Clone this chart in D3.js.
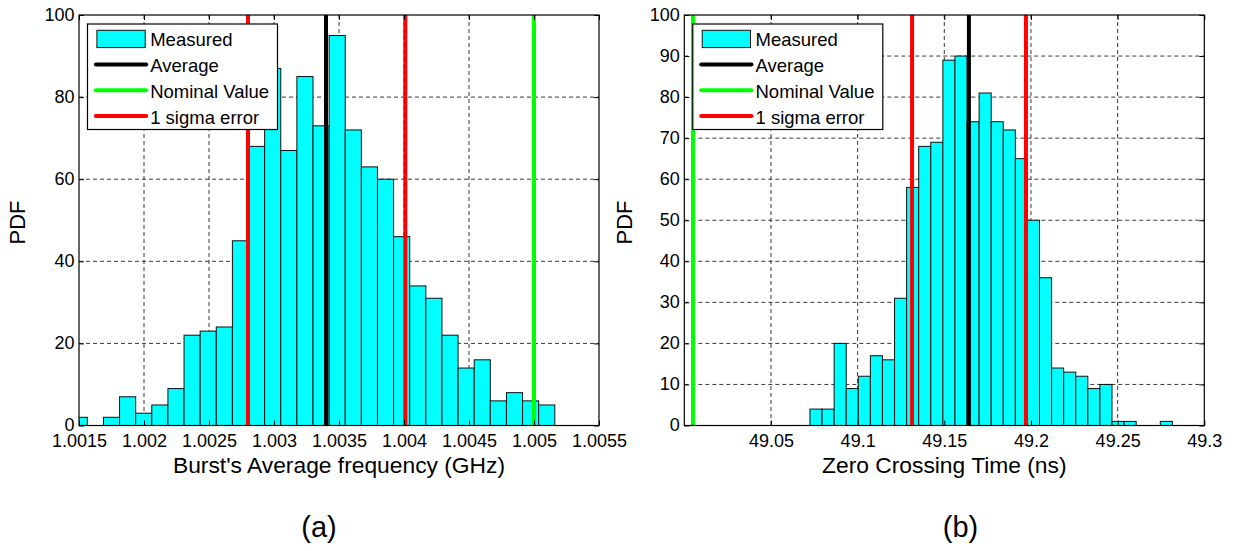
<!DOCTYPE html>
<html>
<head>
<meta charset="utf-8">
<script src="https://cdn.jsdelivr.net/npm/d3@7"></script>
<style>
  html, body { margin: 0; padding: 0; background: #fff; }
  svg { display: block; }
  text { font-family: "Liberation Sans", Arial, Helvetica, sans-serif; fill: #000; }
</style>
</head>
<body>
<svg id="fig" width="1244" height="551"></svg>
<script>
// ---- Panel (a): burst average frequency histogram ----
const freqBinStart = 1.00144;      // left edge of first bin (GHz)
const freqBinWidth = 0.000124;     // bin width (GHz)
const freqCounts = [2, 0, 2, 7, 3, 5, 9, 22, 23, 24, 45, 68, 87, 67, 85,
                    73, 95, 72, 63, 60, 46, 34, 31, 22, 14, 16, 6, 8, 6, 5];
const freqTicks = [1.0015, 1.002, 1.0025, 1.003, 1.0035, 1.004, 1.0045, 1.005, 1.0055];
const freqTickLabels = ["1.0015", "1.002", "1.0025", "1.003", "1.0035", "1.004", "1.0045", "1.005", "1.0055"];
const freqAverage = 1.00340;
const freqNominal = 1.005;
const freqSigma = [1.00280, 1.00401];
const freqYTicks = [0, 20, 40, 60, 80, 100];

// ---- Panel (b): zero crossing time histogram ----
const timeBinStart = 49.0725;      // left edge of first bin (ns)
const timeBinWidth = 0.00697;      // bin width (ns)
const timeCounts = [4, 4, 20, 9, 12, 17, 16, 31, 58, 68, 69, 89, 90, 74, 81,
                    74, 72, 65, 50, 36, 14, 13, 12, 9, 10, 1, 1, 0, 0, 1];
const timeTicks = [49.05, 49.1, 49.15, 49.2, 49.25, 49.3];
const timeTickLabels = ["49.05", "49.1", "49.15", "49.2", "49.25", "49.3"];
const timeAverage = 49.1642;
const timeNominal = 49.005;
const timeSigma = [49.1314, 49.1971];
const timeYTicks = [0, 10, 20, 30, 40, 50, 60, 70, 80, 90, 100];

const legendLabels = ["Measured", "Average", "Nominal Value", "1 sigma error"];
const COLORS = { bar: "#00ffff", average: "#000000", nominal: "#00ff00", sigma: "#ff0000" };

const svg = d3.select("#fig");
svg.append("rect").attr("width", 1244).attr("height", 551).attr("fill", "#fff");

const PLOT_TOP = 15, PLOT_BOTTOM = 425.5;

const panels = [
  {
    key: "a", left: 79, right: 599, xDomain: [1.0015, 1.0055],
    binStart: freqBinStart, binWidth: freqBinWidth, counts: freqCounts,
    xTicks: freqTicks, xTickLabels: freqTickLabels, yTicks: freqYTicks,
    average: freqAverage, nominal: freqNominal, sigma: freqSigma,
    xTitle: "Burst's Average frequency (GHz)", tag: "(a)", tagX: 319,
    yTitleX: 25
  },
  {
    key: "b", left: 684.3, right: 1204.3, xDomain: [49.0, 49.3],
    binStart: timeBinStart, binWidth: timeBinWidth, counts: timeCounts,
    xTicks: timeTicks, xTickLabels: timeTickLabels, yTicks: timeYTicks,
    average: timeAverage, nominal: timeNominal, sigma: timeSigma,
    xTitle: "Zero Crossing Time (ns)", tag: "(b)", tagX: 960.5,
    yTitleX: 631.5
  }
];

panels.forEach(drawPanel);

function drawPanel(p) {
  const x = d3.scaleLinear().domain(p.xDomain).range([p.left, p.right]);
  const y = d3.scaleLinear().domain([0, 100]).range([PLOT_BOTTOM, PLOT_TOP]);
  const g = svg.append("g").attr("class", "panel-" + p.key);
  const w = p.right - p.left, h = PLOT_BOTTOM - PLOT_TOP;

  const clipId = "clip-" + p.key;
  svg.append("defs").append("clipPath").attr("id", clipId)
    .append("rect").attr("x", p.left).attr("y", PLOT_TOP).attr("width", w).attr("height", h);

  // dashed grid
  const grid = g.append("g").attr("class", "grid")
    .attr("stroke", "#222").attr("stroke-width", 0.9).attr("stroke-dasharray", "4,3");
  grid.selectAll("line.gx")
    .data(p.xTicks.filter(t => x(t) > p.left + 1 && x(t) < p.right - 1))
    .join("line").attr("class", "gx")
    .attr("x1", d => x(d)).attr("x2", d => x(d))
    .attr("y1", PLOT_TOP).attr("y2", PLOT_BOTTOM);
  grid.selectAll("line.gy")
    .data(p.yTicks.filter(t => t > 0 && t < 100))
    .join("line").attr("class", "gy")
    .attr("x1", p.left).attr("x2", p.right)
    .attr("y1", d => y(d)).attr("y2", d => y(d));

  // histogram bars
  const bins = p.counts.map((c, i) => ({
    x0: p.binStart + i * p.binWidth,
    x1: p.binStart + (i + 1) * p.binWidth,
    count: c
  }));
  g.append("g").attr("clip-path", `url(#${clipId})`)
    .selectAll("rect").data(bins).join("rect")
    .attr("x", d => x(d.x0)).attr("width", d => x(d.x1) - x(d.x0))
    .attr("y", d => y(d.count)).attr("height", d => y(0) - y(d.count))
    .attr("fill", COLORS.bar).attr("stroke", "#111").attr("stroke-width", 1);

  // reference lines
  const markers = [
    { v: p.average, c: COLORS.average },
    { v: p.nominal, c: COLORS.nominal },
    { v: p.sigma[0], c: COLORS.sigma },
    { v: p.sigma[1], c: COLORS.sigma }
  ];
  g.append("g").selectAll("line").data(markers).join("line")
    .attr("x1", d => x(d.v)).attr("x2", d => x(d.v))
    .attr("y1", PLOT_TOP).attr("y2", PLOT_BOTTOM)
    .attr("stroke", d => d.c).attr("stroke-width", 4);

  // axes: inward ticks on all four sides, labels bottom and left
  const fmtX = (d, i) => p.xTickLabels[i];
  const bottom = g.append("g").attr("transform", `translate(0,${PLOT_BOTTOM})`)
    .call(d3.axisBottom(x).tickValues(p.xTicks).tickFormat(fmtX).tickSizeInner(-5).tickSizeOuter(0));
  bottom.selectAll("text").attr("y", 21.5).attr("dy", 0).style("font-size", "18px");
  const top = g.append("g").attr("transform", `translate(0,${PLOT_TOP})`)
    .call(d3.axisTop(x).tickValues(p.xTicks).tickFormat("").tickSizeInner(-5).tickSizeOuter(0));
  const leftAx = g.append("g").attr("transform", `translate(${p.left},0)`)
    .call(d3.axisLeft(y).tickValues(p.yTicks).tickFormat(d3.format("d")).tickSizeInner(-5).tickSizeOuter(0).tickPadding(4.5));
  leftAx.selectAll("text").attr("dy", "0.3em").style("font-size", "18px");
  const rightAx = g.append("g").attr("transform", `translate(${p.right},0)`)
    .call(d3.axisRight(y).tickValues(p.yTicks).tickFormat("").tickSizeInner(-5).tickSizeOuter(0));
  [bottom, top, leftAx, rightAx].forEach(a => {
    a.select(".domain").remove();
    a.selectAll("line").attr("stroke", "#000");
    a.attr("font-family", null).attr("font-size", null);
  });

  // axes box
  g.append("rect").attr("x", p.left).attr("y", PLOT_TOP).attr("width", w).attr("height", h)
    .attr("fill", "none").attr("stroke", "#000").attr("stroke-width", 1.2);

  // titles
  g.append("text").attr("x", (p.left + p.right) / 2).attr("y", 472.5)
    .attr("text-anchor", "middle").style("font-size", "22.8px").text(p.xTitle);
  g.append("text").attr("transform", `translate(${p.yTitleX},${222.5}) rotate(-90)`)
    .attr("text-anchor", "middle").style("font-size", "22px").text("PDF");
  g.append("text").attr("x", p.tagX).attr("y", 537)
    .attr("text-anchor", "middle").style("font-size", "29px").text(p.tag);

  // legend
  const lx = p.left + 8.5, ly = 24;
  const lg = g.append("g").attr("transform", `translate(${lx},${ly})`);
  lg.append("rect").attr("width", 190).attr("height", 105.5)
    .attr("fill", "#fff").attr("stroke", "#000").attr("stroke-width", 1.2);
  const entries = [
    { label: legendLabels[0], kind: "patch", c: COLORS.bar },
    { label: legendLabels[1], kind: "line", c: COLORS.average },
    { label: legendLabels[2], kind: "line", c: COLORS.nominal },
    { label: legendLabels[3], kind: "line", c: COLORS.sigma }
  ];
  entries.forEach((e, i) => {
    const cy = 14.8 + i * 25.7;
    if (e.kind === "patch") {
      lg.append("rect").attr("x", 9.4).attr("y", cy - 8.5).attr("width", 48.3).attr("height", 17.3)
        .attr("fill", e.c).attr("stroke", "#111").attr("stroke-width", 1);
    } else {
      lg.append("line").attr("x1", 8.4).attr("x2", 58.7).attr("y1", cy).attr("y2", cy)
        .attr("stroke", e.c).attr("stroke-width", 4).attr("stroke-linecap", "round");
    }
    lg.append("text").attr("x", 62.7).attr("y", cy + 7.6)
      .style("font-size", "18.5px").text(e.label);
  });
}
</script>
</body>
</html>
